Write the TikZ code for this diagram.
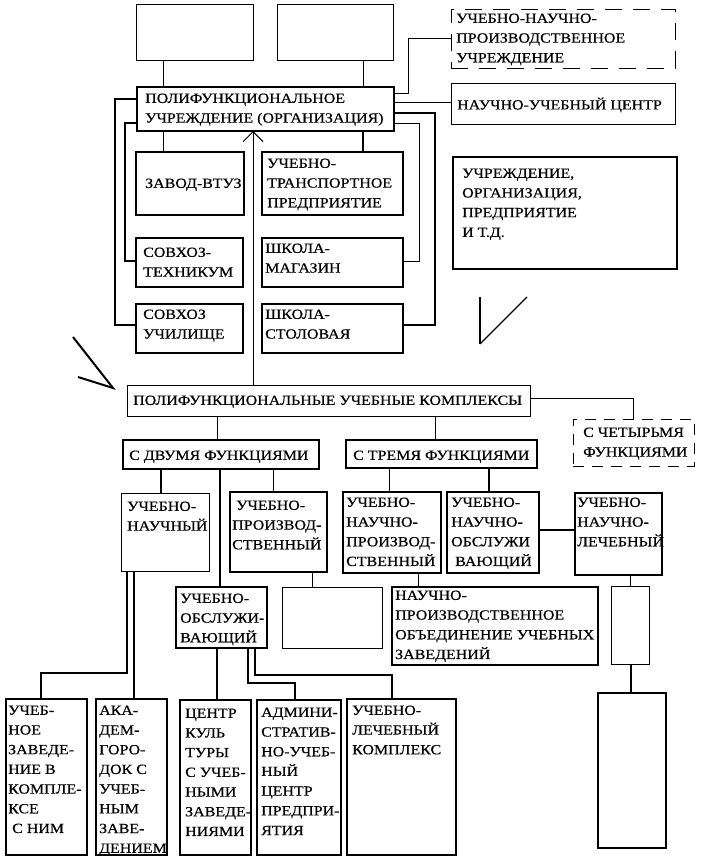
\documentclass[tikz,border=0pt]{standalone}
\usepackage{fontspec}
\setmainfont{Liberation Serif}[FakeStretch=1.14,FakeBold=0.4]
\usetikzlibrary{arrows.meta}
\newcommand\tf{\rmfamily\fontsize{14}{19.7}\selectfont}
\newcommand\mybox[6][box]{%
  \node[#1,minimum width={(#5-#3)*1pt},minimum height={(#6-#4)*1pt}] (#2) at (#3,#4) {};}
\newcommand\boxtext[4]{\node[txt] (#1) at (#2,#3-4.6) {#4};}
\tikzset{
  box/.style={draw, line width=1pt, inner sep=0pt, outer sep=0pt, anchor=north west},
  tbox/.style={box, line width=2pt},
  mbox/.style={box, line width=1.5pt},
  dbox/.style={box, dash pattern=on 17pt off 11pt},
  dboxs/.style={box, dash pattern=on 11pt off 8pt},
  txt/.style={anchor=north west, inner sep=0pt, align=left, font=\tf},
  ln/.style={line width=1pt},
  tk/.style={line width=2pt},
}
\begin{document}
\begin{tikzpicture}[x=1pt,y=-1pt]
\useasboundingbox[fill=white] (0,0) rectangle (701,862);
% boxes
\mybox{A}{136}{4}{253}{60}
\mybox{B}{277}{4}{393}{60}
\mybox[mbox]{main}{137}{87}{394}{131}
\mybox[dbox]{unpu}{451}{9}{675}{68}
\mybox{nuc}{451}{83}{675}{124}
\mybox[mbox]{org}{453}{157}{677}{269}
\mybox[tbox]{zavod}{136}{152}{244}{215}
\mybox[tbox]{utp}{262}{152}{403}{215}
\mybox[tbox]{sovt}{136}{238}{243}{287}
\mybox[mbox]{shm}{262}{238}{403}{287}
\mybox[mbox]{sovu}{136}{304}{243}{353}
\mybox[mbox]{shs}{262}{304}{403}{353}
\mybox{puk}{127}{385}{530}{416}
\mybox[dboxs]{s4}{573}{419}{694}{466}
\mybox[tbox]{s2}{123}{440}{319}{469}
\mybox[tbox]{s3}{346}{440}{537}{468}
\mybox{un}{121}{493}{209}{571}
\mybox[mbox]{up}{230}{492}{327}{572}
\mybox{empty}{282}{587}{382}{648}
\mybox[tbox]{uo}{176}{587}{267}{648}
\mybox[tbox]{unp}{343}{492}{441}{573}
\mybox[tbox]{uno}{447}{492}{539}{573}
\mybox[tbox]{unl}{575}{493}{662}{575}
\mybox[tbox]{npo}{392}{587}{598}{665}
\mybox{small}{611}{586}{649}{664}
\mybox[tbox]{tall}{598}{693}{666}{848}
\mybox[tbox]{uz}{6}{699}{87}{855}
\mybox[tbox]{aka}{96}{699}{167}{855}
\mybox[tbox]{ck}{180}{700}{251}{855}
\mybox[tbox]{adm}{257}{700}{341}{855}
\mybox[tbox]{ulk}{347}{699}{456}{855}
% texts
\boxtext{t1}{145}{98}{ПОЛИФУНКЦИОНАЛЬНОЕ\\УЧРЕЖДЕНИЕ (ОРГАНИЗАЦИЯ)}
\boxtext{t2}{456}{18}{УЧЕБНО-НАУЧНО-\\ПРОИЗВОДСТВЕННОЕ\\УЧРЕЖДЕНИЕ}
\boxtext{t3}{457}{102}{НАУЧНО-УЧЕБНЫЙ ЦЕНТР}
\boxtext{t4}{462}{173}{УЧРЕЖДЕНИЕ,\\ОРГАНИЗАЦИЯ,\\ПРЕДПРИЯТИЕ\\И Т.Д.}
\boxtext{t5}{145}{183}{ЗАВОД-ВТУЗ}
\boxtext{t6}{267}{163}{УЧЕБНО-\\ТРАНСПОРТНОЕ\\ПРЕДПРИЯТИЕ}
\boxtext{t7}{143}{252}{СОВХОЗ-\\ТЕХНИКУМ}
\boxtext{t8}{265}{248}{ШКОЛА-\\МАГАЗИН}
\boxtext{t9}{143}{314}{СОВХОЗ\\УЧИЛИЩЕ}
\boxtext{t10}{265}{314}{ШКОЛА-\\СТОЛОВАЯ}
\boxtext{t11}{133}{400}{ПОЛИФУНКЦИОНАЛЬНЫЕ УЧЕБНЫЕ КОМПЛЕКСЫ}
\boxtext{t12}{583}{432}{С ЧЕТЫРЬМЯ\\ФУНКЦИЯМИ}
\boxtext{t13}{129}{455}{С ДВУМЯ ФУНКЦИЯМИ}
\boxtext{t14}{353}{455}{С ТРЕМЯ ФУНКЦИЯМИ}
\boxtext{t15}{127}{506}{УЧЕБНО-\\НАУЧНЫЙ}
\boxtext{t16}{232}{505}{\ УЧЕБНО-\\ПРОИЗВОД-\\СТВЕННЫЙ}
\boxtext{t17}{346}{502}{УЧЕБНО-\\НАУЧНО-\\ПРОИЗВОД-\\СТВЕННЫЙ}
\boxtext{t18}{451}{502}{УЧЕБНО-\\НАУЧНО-\\ОБСЛУЖИ\\\ ВАЮЩИЙ}
\boxtext{t19}{577}{502}{УЧЕБНО-\\НАУЧНО-\\ЛЕЧЕБНЫЙ}
\boxtext{t20}{180}{598}{УЧЕБНО-\\ОБСЛУЖИ-\\ВАЮЩИЙ}
\boxtext{t21}{395}{595}{НАУЧНО-\\ПРОИЗВОДСТВЕННОЕ\\ОБЪЕДИНЕНИЕ УЧЕБНЫХ\\ЗАВЕДЕНИЙ}
\boxtext{t22}{8}{710}{УЧЕБ-\\НОЕ\\ЗАВЕДЕ-\\НИЕ В\\КОМПЛЕ-\\КСЕ\\\ С НИМ}
\boxtext{t23}{99}{710}{АКА-\\ДЕМ-\\ГОРО-\\ДОК С\\УЧЕБ-\\НЫМ\\ЗАВЕ-\\ДЕНИЕМ}
\boxtext{t24}{185}{713}{ЦЕНТР\\КУЛЬ\\ТУРЫ\\С УЧЕБ-\\НЫМИ\\ЗАВЕДЕ-\\НИЯМИ}
\boxtext{t25}{261}{712}{АДМИНИ-\\СТРАТИВ-\\НО-УЧЕБ-\\НЫЙ\\ЦЕНТР\\ПРЕДПРИ-\\ЯТИЯ}
\boxtext{t26}{352}{710}{УЧЕБНО-\\ЛЕЧЕБНЫЙ\\КОМПЛЕКС}
% connectors
\draw[ln] (A.south -| 163,0) -- (main.north -| 163,0);
\draw[ln] (B.south -| 363,0) -- (main.north -| 363,0);
\draw[ln] (main.south -| 163,0) -- (zavod.north -| 163,0);
\draw[tk] (main.south -| 363,0) -- (utp.north -| 363,0);
\draw[ln,-{Straight Barb[length=10pt,width=20pt]}] (puk.north -| 253,0) -- (main.south -| 253,0);
\draw[tk] (main.west |- 0,99) -- (115,99) |- (sovu.west |- 0,325);
\draw[tk] (main.west |- 0,123) -- (125,123) |- (sovt.west |- 0,261);
\draw[ln] (main.east |- 0,93) -- (408,93) |- (unpu.west |- 0,38);
\draw[ln] (main.east |- 0,102) -- (nuc.west |- 0,102);
\draw[tk] (main.east |- 0,113) -- (435,113) |- (shs.east |- 0,325);
\draw[ln] (main.east |- 0,123) -- (419,123) |- (shm.east |- 0,261);
\draw[ln] (puk.east |- 0,398) -| (s4.north -| 633,0);
\draw[ln] (puk.south -| 217,0) -- (s2.north -| 217,0);
\draw[ln] (puk.south -| 435,0) -- (s3.north -| 435,0);
\draw[tk] (s2.south -| 161,0) -- (un.north -| 161,0);
\draw[tk] (s2.south -| 220,0) -- (uo.north -| 220,0);
\draw[ln] (s2.south -| 273,0) -- (up.north -| 273,0);
\draw[ln] (up.south -| 312,0) -- (empty.north -| 312,0);
\draw[ln] (s3.south -| 389,0) -- (unp.north -| 389,0);
\draw[tk] (s3.south -| 489,0) -- (uno.north -| 489,0);
\draw[tk] (uno.east |- 0,530) -- (unl.west |- 0,530);
\draw[ln] (unp.south -| 418,0) -- (npo.north -| 418,0);
\draw[ln] (unl.south -| 630,0) -- (small.north -| 630,0);
\draw[tk] (small.south -| 631,0) -- (tall.north -| 631,0);
\draw[tk] (un.south -| 127,0) |- (41,673) -- (uz.north -| 41,0);
\draw[tk] (un.south -| 134,0) -- (aka.north -| 134,0);
\draw[tk] (uo.south -| 217,0) -- (ck.north -| 217,0);
\draw[tk] (uo.south -| 248,0) |- (295,683) -- (adm.north -| 295,0);
\draw[tk] (uo.south -| 255,0) |- (392,675) -- (ulk.north -| 392,0);
% free marks
\draw[tk] (73,337) -- (113,388) -- (78,377);
\draw[tk] (480,297) -- (480,344);
\draw[line width=1.3pt] (480,344) -- (527,297);
\end{tikzpicture}
\end{document}
